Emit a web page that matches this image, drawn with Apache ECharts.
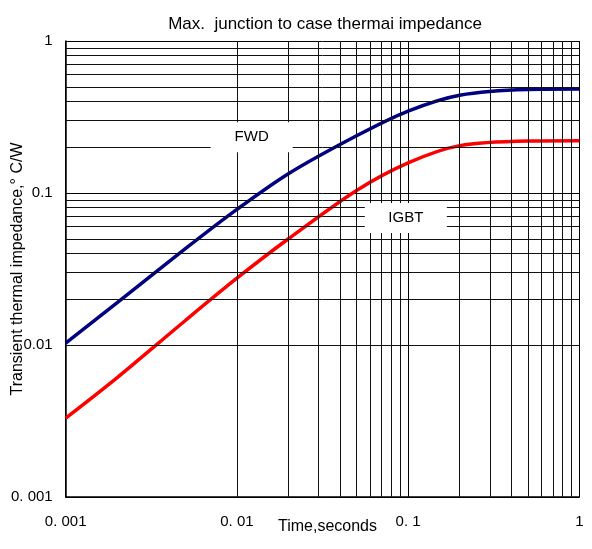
<!DOCTYPE html>
<html>
<head>
<meta charset="utf-8">
<script src="https://cdn.jsdelivr.net/npm/echarts@6/dist/echarts.min.js"></script>
<style>
  html, body { margin: 0; padding: 0; background: #fff; }
  #chart { width: 592px; height: 549px; }
</style>
</head>
<body>
<div id="chart"></div>
<script>
// Transient thermal impedance (junction to case), °C/W, vs pulse time in seconds
const timeFWD = [0.001, 0.002, 0.005, 0.01, 0.02, 0.05, 0.1, 0.2, 0.5, 1];
const zthFWD  = [0.0103, 0.0190, 0.0430, 0.078, 0.134, 0.238, 0.346, 0.440, 0.480, 0.483];

const timeIGBT = [0.001, 0.002, 0.005, 0.01, 0.02, 0.05, 0.1, 0.2, 0.5, 1];
const zthIGBT  = [0.0033, 0.0061, 0.0145, 0.0275, 0.050, 0.104, 0.158, 0.205, 0.220, 0.221];

// Decade tick labels as printed on each axis
const xTickValues = [0.001, 0.01, 0.1, 1];
const xTickLabels = ['0. 001', '0. 01', '0. 1', '1'];
const yTickValues = [0.001, 0.01, 0.1, 1];
const yTickLabels = ['0. 001', '0.01', '0.1', '1'];

// Curve name tags: [label, time, impedance]
const curveTags = [
  ['FWD', 0.0122, 0.233],
  ['IGBT', 0.097, 0.0685]
];

const FONT = 'Liberation Sans, Arial, sans-serif';

function tickLabel(values, labels) {
  return function (v) {
    for (let i = 0; i < values.length; i++) {
      if (Math.abs(Math.log10(v) - Math.log10(values[i])) < 1e-6) return labels[i];
    }
    return '';
  };
}

// Intermediate log grid lines (2..9 within each decade)
const minorX = [], minorY = [];
for (let d = -3; d < 0; d++) {
  for (let k = 2; k <= 9; k++) {
    const v = k * Math.pow(10, d);
    minorX.push({ xAxis: v });
    minorY.push({ yAxis: v });
  }
}

const chart = echarts.init(document.getElementById('chart'), null, { renderer: 'canvas' });

chart.setOption({
  animation: false,
  backgroundColor: '#fff',
  title: {
    text: 'Max.  junction to case thermai impedance',
    left: 320,
    top: 11,
    textAlign: 'center',
    textStyle: { fontFamily: FONT, fontSize: 17, fontWeight: 'normal', color: '#000' }
  },
  grid: { left: 65.7, right: 12.7, top: 41, bottom: 52, containLabel: false, outerBoundsMode: 'none' },
  xAxis: {
    type: 'log',
    logBase: 10,
    min: 0.001,
    max: 1,
    name: 'Time,seconds',
    nameLocation: 'middle',
    nameGap: 22,
    nameMoveOverlap: false,
    nameTextStyle: { fontFamily: FONT, fontSize: 16, color: '#000', padding: [0, 0, 0, 10] },
    axisLine: { show: true, lineStyle: { color: '#000', width: 1.5 } },
    axisTick: { show: false },
    axisLabel: {
      fontFamily: FONT, fontSize: 15, color: '#000', margin: 17,
      formatter: tickLabel(xTickValues, xTickLabels)
    },
    splitLine: { show: true, lineStyle: { color: '#000', width: 1 } }
  },
  yAxis: {
    type: 'log',
    logBase: 10,
    min: 0.001,
    max: 1,
    name: 'Transient thermal impedance,° C/W',
    nameLocation: 'middle',
    nameRotate: 90,
    nameGap: 40,
    nameMoveOverlap: false,
    nameTextStyle: { fontFamily: FONT, fontSize: 16, color: '#000' },
    axisLine: { show: true, lineStyle: { color: '#000', width: 1.5 } },
    axisTick: { show: false },
    axisLabel: {
      fontFamily: FONT, fontSize: 15, color: '#000', margin: 13,
      formatter: tickLabel(yTickValues, yTickLabels)
    },
    splitLine: { show: true, lineStyle: { color: '#000', width: 1 } }
  },
  series: [
    {
      // carrier for the intermediate grid lines
      type: 'line',
      data: [],
      z: 1,
      silent: true,
      markLine: {
        silent: true,
        symbol: ['none', 'none'],
        label: { show: false },
        lineStyle: { color: '#111', width: 1, type: 'solid' },
        emphasis: { disabled: true },
        data: minorX.concat(minorY)
      }
    },
    {
      name: 'FWD',
      type: 'line',
      z: 3,
      smooth: 0.3,
      showSymbol: false,
      lineStyle: { color: '#000080', width: 3.5 },
      itemStyle: { color: '#000080' },
      data: timeFWD.map((t, i) => [t, zthFWD[i]])
    },
    {
      name: 'IGBT',
      type: 'line',
      z: 3,
      smooth: 0.3,
      showSymbol: false,
      lineStyle: { color: '#ff0000', width: 3.5 },
      itemStyle: { color: '#ff0000' },
      data: timeIGBT.map((t, i) => [t, zthIGBT[i]])
    },
    {
      // white tags naming each curve
      type: 'scatter',
      z: 5,
      silent: true,
      data: [],
      markPoint: {
        silent: true,
        symbol: 'rect',
        symbolSize: [82, 30],
        itemStyle: { color: '#fff' },
        label: {
          show: true,
          position: 'inside',
          fontFamily: FONT,
          fontSize: 15,
          color: '#000'
        },
        data: curveTags.map(t => ({ name: t[0], coord: [t[1], t[2]], value: t[0], label: { formatter: t[0] } }))
      }
    }
  ]
});
</script>
</body>
</html>
